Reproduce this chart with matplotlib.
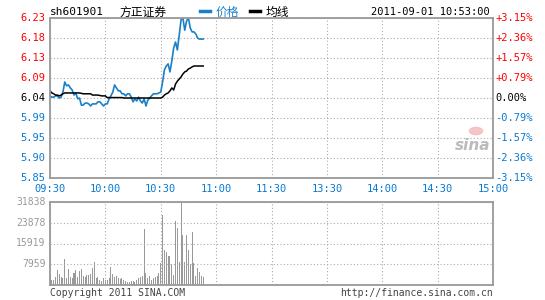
import matplotlib
matplotlib.use("Agg")
import matplotlib.pyplot as plt
import numpy as np

# minute-by-minute data, 09:30 -> 10:53
price = [6.045, 6.042, 6.042, 6.045, 6.045, 6.040, 6.042, 6.054, 6.078, 6.069,
         6.071, 6.064, 6.059, 6.047, 6.052, 6.038, 6.040, 6.023, 6.023, 6.028,
         6.028, 6.026, 6.021, 6.026, 6.026, 6.026, 6.031, 6.031, 6.026, 6.021,
         6.026, 6.026, 6.038, 6.045, 6.054, 6.071, 6.064, 6.057, 6.057, 6.050,
         6.050, 6.045, 6.050, 6.050, 6.042, 6.031, 6.038, 6.033, 6.042, 6.033,
         6.028, 6.038, 6.021, 6.035, 6.040, 6.045, 6.050, 6.050, 6.050, 6.052,
         6.054, 6.078, 6.107, 6.116, 6.121, 6.102, 6.128, 6.159, 6.173, 6.154,
         6.189, 6.226, 6.230, 6.201, 6.223, 6.230, 6.206, 6.197, 6.197, 6.192,
         6.182, 6.180, 6.180, 6.180]
avg = [6.057, 6.052, 6.050, 6.047, 6.047, 6.045, 6.047, 6.050, 6.052, 6.052,
       6.052, 6.052, 6.052, 6.052, 6.052, 6.052, 6.052, 6.051, 6.050, 6.050,
       6.050, 6.050, 6.050, 6.047, 6.047, 6.047, 6.047, 6.046, 6.045, 6.045,
       6.045, 6.041, 6.041, 6.041, 6.041, 6.041, 6.041, 6.041, 6.041, 6.041,
       6.040, 6.040, 6.040, 6.040, 6.040, 6.040, 6.040, 6.040, 6.040, 6.040,
       6.040, 6.040, 6.040, 6.040, 6.040, 6.040, 6.040, 6.040, 6.040, 6.040,
       6.040, 6.042, 6.047, 6.050, 6.052, 6.057, 6.064, 6.059, 6.073, 6.080,
       6.085, 6.090, 6.097, 6.102, 6.104, 6.109, 6.111, 6.114, 6.116, 6.116,
       6.116, 6.116, 6.116, 6.116]
volume = [3965, 1790, 1790, 3070, 5880, 4350, 3070, 2690, 10100, 2690,
          6270, 3070, 2690, 4730, 5880, 3070, 5500, 6270, 3580, 3070,
          3965, 3965, 4350, 6520, 8950, 2690, 3070, 2050, 1660, 2690,
          1790, 2050, 2690, 6900, 4350, 3070, 3580, 2690, 2430, 2690,
          2050, 1410, 1280, 1280, 1530, 1660, 1280, 2050, 2690, 3070,
          3580, 21500, 4600, 2700, 3400, 1900, 2700, 3000, 3400, 4600,
          8300, 27000, 13600, 12500, 11000, 11300, 8200, 4000, 24700, 21800,
          8700, 31838, 19300, 8900, 19000, 13500, 8100, 20400, 8300, 3400,
          6600, 4800, 3300, 2900]

price_ticks = ["5.85", "5.90", "5.95", "5.99", "6.04", "6.09", "6.13", "6.18", "6.23"]
pct_ticks = ["-3.15%", "-2.36%", "-1.57%", "-0.79%", "0.00%",
             "+0.79%", "+1.57%", "+2.36%", "+3.15%"]
time_ticks = ["09:30", "10:00", "10:30", "11:00", "11:30",
              "13:30", "14:00", "14:30", "15:00"]
vol_ticks = ["", "7959", "15919", "23878", "31838"]

RED = "#ff0000"
BLUE = "#0a7ad2"
LINE_BLUE = "#1a80c8"
GRAY = "#999999"
MONO = "DejaVu Sans Mono"
CJK = ["Noto Sans CJK SC", "DejaVu Sans"]

fig = plt.figure(figsize=(5.45, 3.0), dpi=100)
fig.patch.set_facecolor("white")

ax = fig.add_axes([50/545, 1-178/300, 443/545, 160/300])
axv = fig.add_axes([50/545, 1-285/300, 443/545, 83/300])

minutes = np.arange(len(price))
ax.plot(minutes, price, color=LINE_BLUE, lw=1.2)
ax.plot(minutes, avg, color="black", lw=1.1)
ax.set_xlim(0, 240)
ax.set_ylim(5.85, 6.23)

yt = np.linspace(5.85, 6.23, 9)
ax.set_yticks(yt)
ax.set_xticks(np.arange(0, 241, 30))
ax.set_xticklabels([])
ax.set_yticklabels([])
ax.tick_params(length=0)
ax.grid(True, color="#aaaaaa", ls=(0, (1, 2)), lw=0.8)

for i, (lab, pl) in enumerate(zip(price_ticks, pct_ticks)):
    c = RED if i > 4 else ("black" if i == 4 else BLUE)
    ax.text(-0.01, yt[i], lab, transform=ax.get_yaxis_transform(), ha="right",
            va="center", color=c, family=MONO, fontsize=7.5)
    ax.text(1.005, yt[i], pl, transform=ax.get_yaxis_transform(), ha="left",
            va="center", color=c, family=MONO, fontsize=7.5)

for i, lab in enumerate(time_ticks):
    ax.text(i * 30, -0.035, lab, transform=ax.get_xaxis_transform(), ha="center",
            va="top", color=BLUE, family=MONO, fontsize=7.5)

for a in (ax, axv):
    for s in a.spines.values():
        s.set_color(GRAY)
        s.set_linewidth(1.3)

axv.bar(minutes, volume, width=0.55, color=GRAY)
axv.set_xlim(0, 240)
axv.set_ylim(0, 31838)
axv.set_xticks(np.arange(0, 241, 30))
axv.set_yticks(np.linspace(0, 31838, 5))
axv.set_xticklabels([])
axv.set_yticklabels([])
axv.tick_params(length=0)
axv.grid(True, color="#aaaaaa", ls=(0, (1, 2)), lw=0.8)
for i, lab in enumerate(vol_ticks):
    axv.text(-0.01, 31838 * i / 4, lab, transform=axv.get_yaxis_transform(),
             ha="right", va="center", color=GRAY, family=MONO, fontsize=7)

# header
fig.text(50/545, 1-12/300, "sh601901", family=MONO, fontsize=8, va="center")
fig.text(120/545, 1-12/300, "方正证券", family=CJK, fontsize=8.5, va="center")
fig.lines.append(plt.Line2D([200/545, 210/545], [1-11/300, 1-11/300],
                            color=LINE_BLUE, lw=2.5, transform=fig.transFigure))
fig.text(216/545, 1-12/300, "价格", family=CJK, fontsize=8.5, va="center",
         color=LINE_BLUE)
fig.lines.append(plt.Line2D([250/545, 260/545], [1-11/300, 1-11/300],
                            color="black", lw=2.5, transform=fig.transFigure))
fig.text(266/545, 1-12/300, "均线", family=CJK, fontsize=8.5, va="center")
fig.text(490/545, 1-12/300, "2011-09-01 10:53:00", family=MONO, fontsize=7.5,
         va="center", ha="right")

# watermark
fig.text(473/545, 1-145/300, "sina", family="DejaVu Sans", fontsize=11,
         fontweight="bold", style="italic", color="#bbbbbb", ha="center",
         va="center")
fig.patches.append(plt.Circle((476/545, 1-131/300), 0.012, color="#f4b8b8",
                              transform=fig.transFigure, alpha=0.8))

# footer
fig.text(50/545, 1-293/300, "Copyright 2011 SINA.COM", family=MONO, fontsize=7,
         va="center", color="#444444")
fig.text(493/545, 1-293/300, "http://finance.sina.com.cn", family=MONO,
         fontsize=7, va="center", ha="right", color="#444444")

fig.savefig("out.png", dpi=100)
